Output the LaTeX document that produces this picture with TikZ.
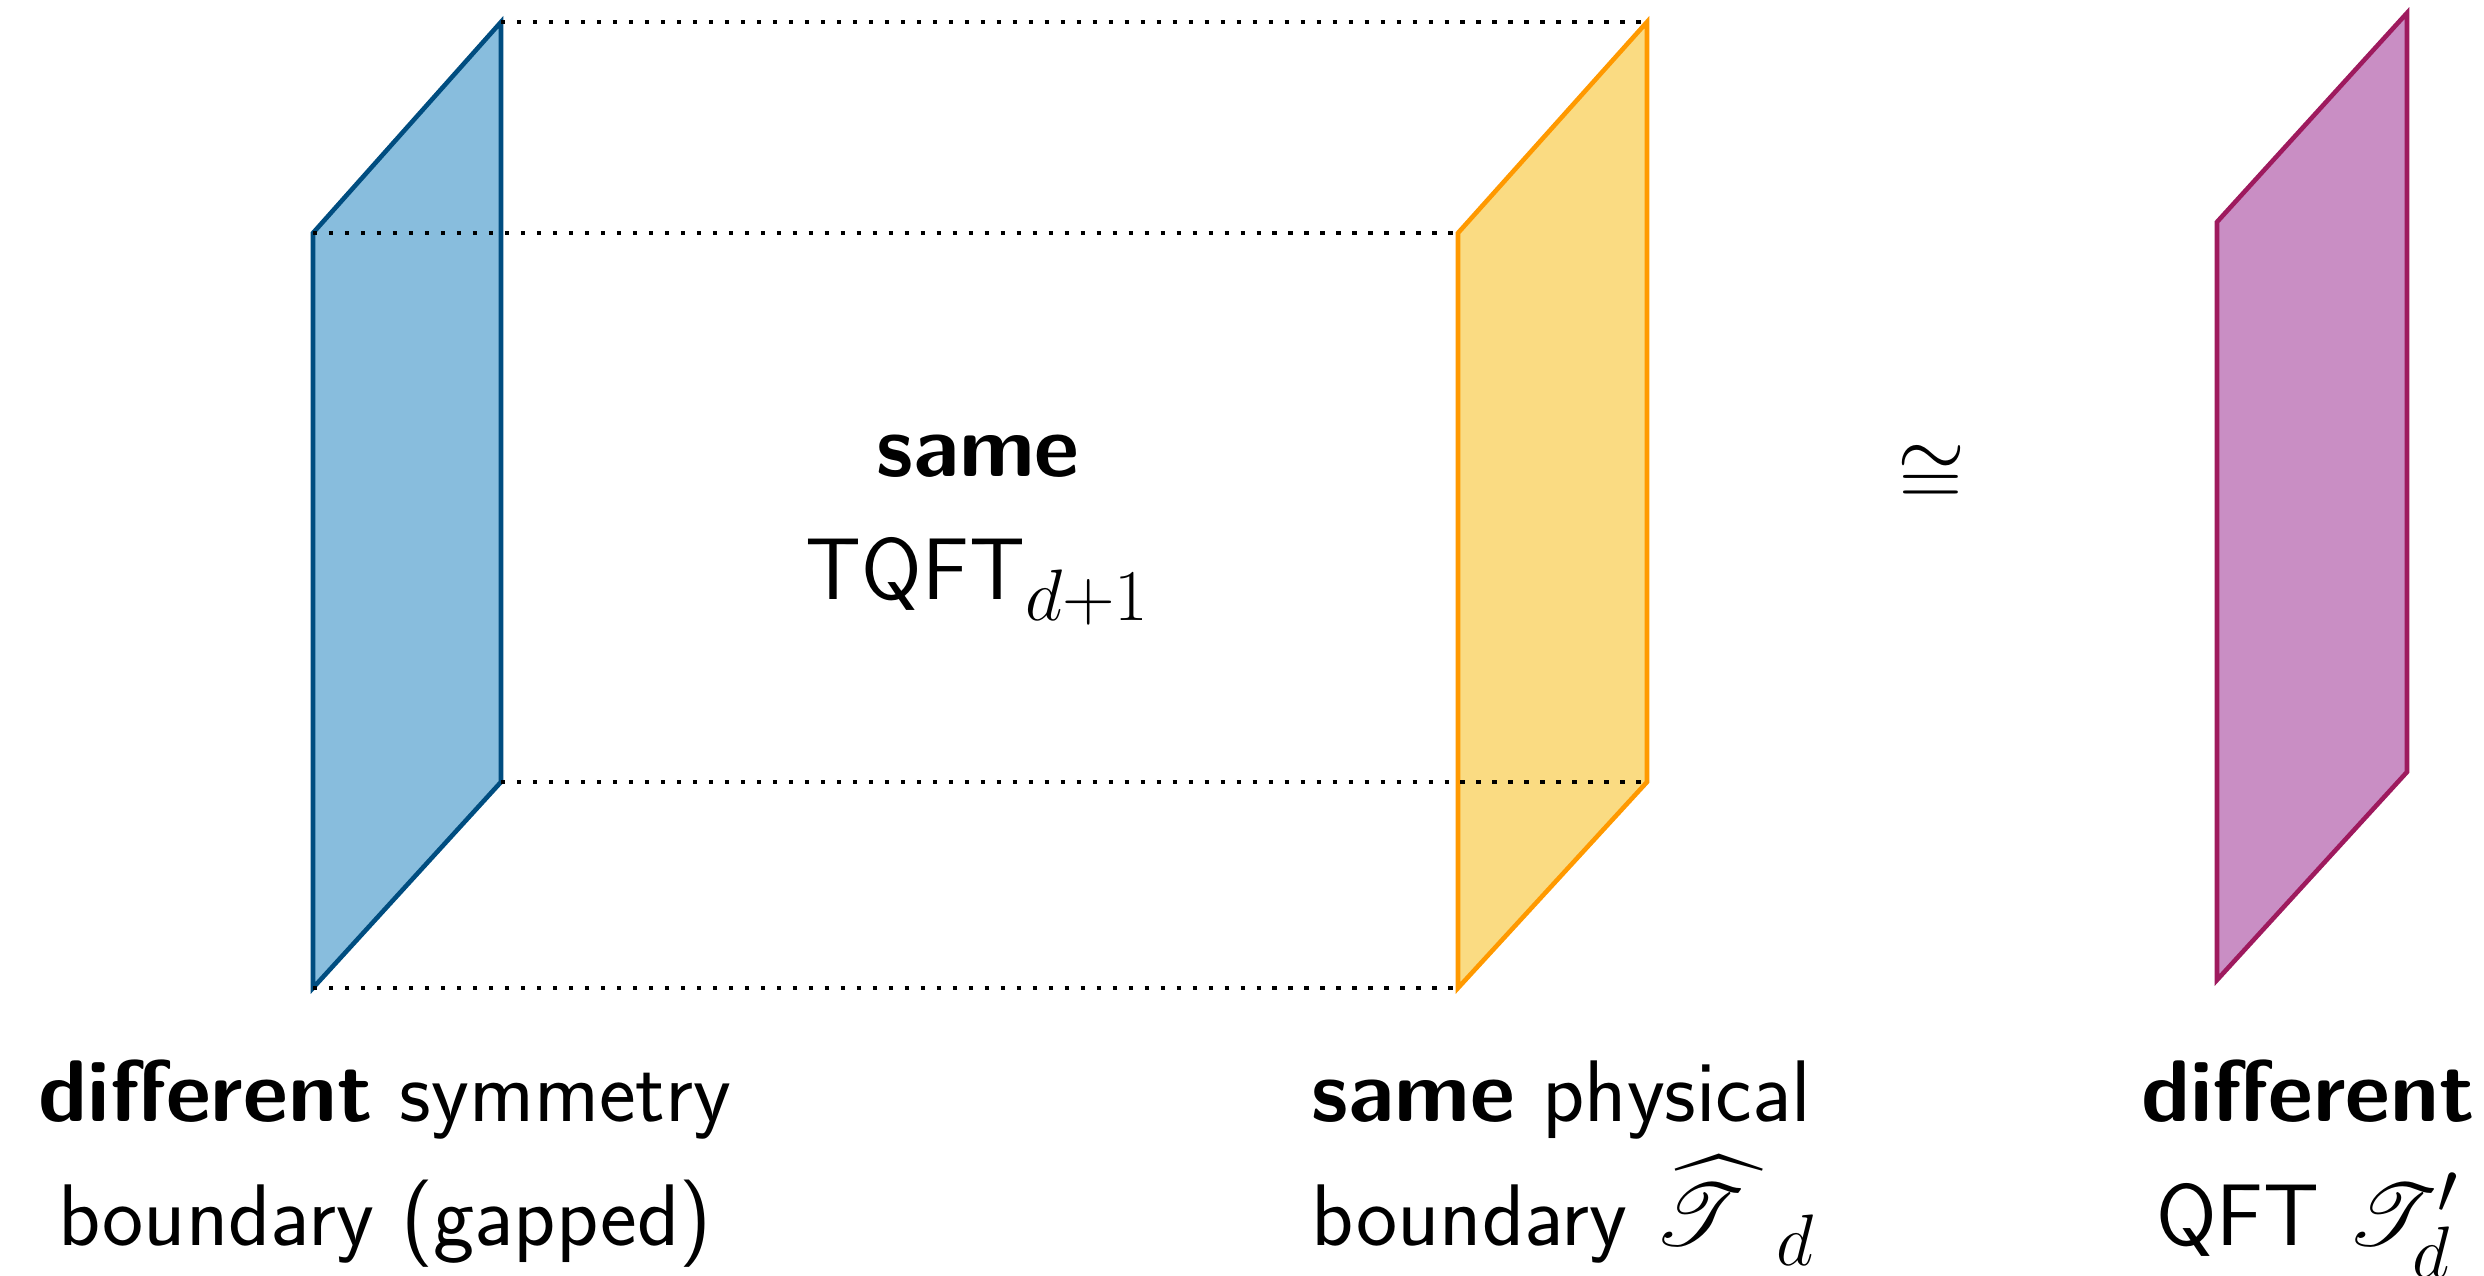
\documentclass[tikz,border=0pt]{standalone}
\usepackage{amsmath,amssymb}
\usepackage{mathrsfs}
\usepackage{tikz}
\usetikzlibrary{calc,positioning}
\definecolor{symfill}{HTML}{88BDDD}
\definecolor{symedge}{HTML}{004D80}
\definecolor{physfill}{HTML}{FADB82}
\definecolor{physedge}{HTML}{FF9900}
\definecolor{qftfill}{HTML}{C98EC4}
\definecolor{qftedge}{HTML}{9E1A5E}

\begin{document}
\begin{tikzpicture}[
		plane/.style={line width=1.3pt, line join=miter},
		guide/.style={line width=1.2pt, dash pattern=on 1.2pt off 3.35pt},
		lbl/.style={font=\fontsize{24.88}{35}\selectfont\sffamily, align=center, anchor=base, inner sep=0pt}
	]
	\useasboundingbox (0,0) rectangle (24.84,12.75);
	
	%------------------------------------------------
	% Plane corners
	%------------------------------------------------
	\coordinate (s1) at ( 3.13,  2.87);
	\coordinate (s2) at ( 3.13, 10.42);
	\coordinate (s3) at ( 5.01, 12.53);
	\coordinate (s4) at ( 5.01,  4.93);
	
	\coordinate (p1) at (14.58,  2.87);
	\coordinate (p2) at (14.58, 10.42);
	\coordinate (p3) at (16.47, 12.53);
	\coordinate (p4) at (16.47,  4.93);
	
	\coordinate (q1) at (22.17,  2.95);
	\coordinate (q2) at (22.17, 10.53);
	\coordinate (q3) at (24.07, 12.62);
	\coordinate (q4) at (24.07,  5.03);
	
	%------------------------------------------------
	% Planes
	%------------------------------------------------
	\draw[plane, fill=symfill, draw=symedge] (s1) -- (s2) -- (s3) -- (s4) -- cycle;
	\draw[plane, fill=physfill, draw=physedge] (p1) -- (p2) -- (p3) -- (p4) -- cycle;
	\draw[plane, fill=qftfill, draw=qftedge] (q1) -- (q2) -- (q3) -- (q4) -- cycle;
	
	%------------------------------------------------
	% Slab edges
	%------------------------------------------------
	\draw[guide] (s2) -- (p2);
	\draw[guide] (s3) -- (p3);
	\draw[guide] (s4) -- (p4);
	\draw[guide] (s1) -- (p1);
	
	%------------------------------------------------
	% Labels
	%------------------------------------------------
	\node[lbl] (bulk) at (9.78, 6.75) {\textbf{same}\\TQFT$_{d+1}$};
	\node[font=\fontsize{24.88}{30}\selectfont] (iso) at (19.31, 7.99) {$\cong$};
	
	\node[lbl] (symlbl) at (3.85, 0.30) {\textbf{different} symmetry\\boundary (gapped)};
	\node[lbl, align=left, anchor=base west] (physlbl) at (13.11, 0.30) {\textbf{same} physical\\boundary ${\widehat{\mathscr{T}}}_{\mkern14mu d}$};
	\node[lbl] (qftlbl) at (23.08, 0.30) {\textbf{different}\\QFT $\mathscr{T}'_d$};
\end{tikzpicture}
\end{document}
